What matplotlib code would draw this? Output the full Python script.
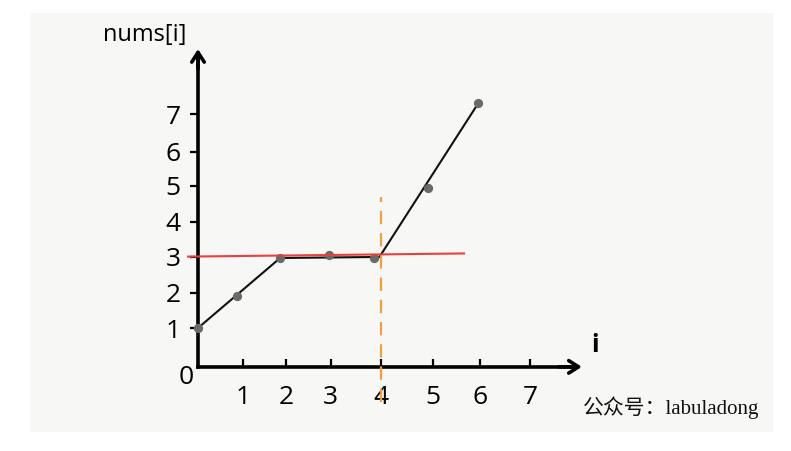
import matplotlib
matplotlib.use("Agg")
import matplotlib.pyplot as plt
from matplotlib.patches import Rectangle

# hand-drawn chart, values
idx_x = [0.0, 0.82, 1.73, 2.76, 3.71, 4.84, 5.89]
nums = [1.0, 1.91, 3.0, 3.09, 3.0, 5.0, 7.43]

line_x = [0.0, 1.73, 3.82, 5.89]
line_y = [1.0, 3.0, 3.03, 7.4]

red_x = [-0.21, 5.6]
red_y = [3.04, 3.13]

cut_x = 3.85
cut_y = [-1.11, 4.74]

xtick_pos = [0.94, 1.85, 2.79, 3.85, 4.94, 5.94, 6.99]
xtick_lab = ["1", "2", "3", "4", "5", "6", "7"]
ytick_pos = [1.0, 2.0, 3.03, 4.03, 5.06, 6.03, 7.11]
ytick_lab = ["1", "2", "3", "4", "5", "6", "7"]

X_AXIS_Y = -0.11
FONT = "Open Sans"

fig = plt.figure(figsize=(7.91, 4.51), dpi=100)
fig.patch.set_facecolor("white")

ax = fig.add_axes([0, 0, 1, 1])
ax.set_facecolor("none")
ax.set_xlim(-198 / 47.5, (791 - 198) / 47.5)
ax.set_ylim(-88 / 35, 363 / 35)

# paper background
ax.add_patch(Rectangle((30 / 791, 19 / 451), 743 / 791, 419 / 451,
                       transform=fig.transFigure, facecolor="#f7f7f5",
                       edgecolor="none", zorder=-5))

for side in ("top", "right"):
    ax.spines[side].set_visible(False)
ax.spines["left"].set_position(("data", 0))
ax.spines["bottom"].set_position(("data", X_AXIS_Y))
ax.spines["left"].set_bounds(X_AXIS_Y, 8.7)
ax.spines["bottom"].set_bounds(0, 7.9)
for side in ("left", "bottom"):
    ax.spines[side].set_linewidth(2.6)
    ax.spines[side].set_color("black")

ax.set_xticks(xtick_pos, xtick_lab)
ax.set_yticks(ytick_pos, ytick_lab)
ax.tick_params(axis="x", direction="in", length=6, width=1.6, pad=13,
               labelsize=19)
ax.tick_params(axis="y", direction="out", length=5.5, width=1.6, pad=7,
               labelsize=19)
for lab in ax.get_xticklabels() + ax.get_yticklabels():
    lab.set_fontfamily(FONT)

# arrow heads
ax.annotate("", xy=(0, 8.97), xytext=(0, 8.4),
            arrowprops=dict(arrowstyle="->,head_length=0.7,head_width=0.45",
                            lw=2.6, color="black", shrinkA=0, shrinkB=0))
ax.annotate("", xy=(8.08, X_AXIS_Y), xytext=(7.6, X_AXIS_Y),
            arrowprops=dict(arrowstyle="->,head_length=0.7,head_width=0.45",
                            lw=2.6, color="black", shrinkA=0, shrinkB=0))

ax.text(-0.1, X_AXIS_Y - 0.3, "0", fontsize=19, family=FONT,
        ha="right", va="center")
ax.text(-2.0, 9.37, "nums[i]", fontsize=17, family=FONT, ha="left",
        va="center")
ax.text(8.36, 0.5, "i", fontsize=18, family=FONT, fontweight="bold",
        ha="center", va="center")

ax.plot(line_x, line_y, color="#111111", lw=1.5, zorder=3)
ax.scatter(idx_x, nums, s=32, color="#6a6a6a", zorder=4)
ax.plot(red_x, red_y, color="#e8403c", lw=1.5, zorder=5)
ax.plot([cut_x, cut_x], cut_y, color="#f0a040", lw=1.6,
        dashes=(6, 4), zorder=5)

ax.text(8.1, -1.29, "公众号：labuladong", fontsize=15,
        family=["Liberation Serif", "Noto Sans CJK SC"],
        ha="left", va="center", color="#111111")

fig.savefig("out.png", dpi=100)
